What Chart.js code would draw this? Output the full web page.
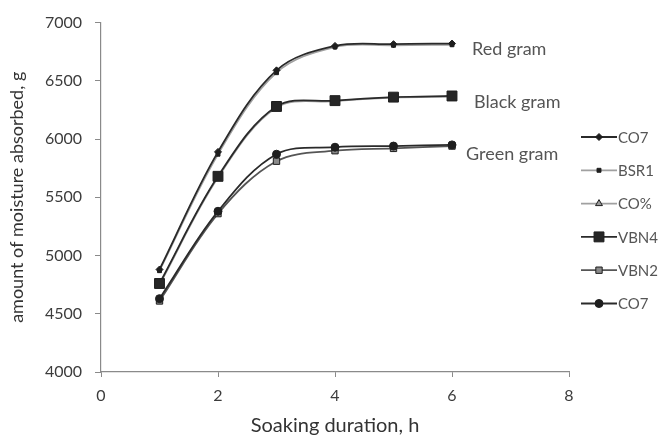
<!DOCTYPE html>
<html>
<head>
<meta charset="utf-8">
<script src="https://cdn.jsdelivr.net/npm/chart.js@4/dist/chart.umd.min.js"></script>
<style>
  html, body { margin: 0; padding: 0; background: #fff; }
  #wrap { width: 661px; height: 436px; position: relative; }
</style>
</head>
<body>
<div id="wrap"><canvas id="soakChart" width="661" height="436"></canvas></div>
<script>
const HOURS = [1, 2, 3, 4, 5, 6];

// red gram
const RED_CO7   = [4880, 5890, 6590, 6800, 6815, 6820];
const RED_BSR1  = [4870, 5870, 6570, 6790, 6805, 6810];
// black gram
const BLK_CO5   = [4750, 5670, 6270, 6325, 6355, 6365];
const BLK_VBN4  = [4760, 5680, 6280, 6330, 6360, 6370];
// green gram
const GRN_VBN2  = [4610, 5360, 5810, 5900, 5920, 5940];
const GRN_CO7   = [4630, 5380, 5870, 5930, 5940, 5950];

const SERIES_NAMES = ["CO7", "BSR1", "CO%", "VBN4", "VBN2", "CO7"];
const GROUP_LABELS = ["Red gram", "Black gram", "Green gram"];

const TEXT  = "#3c3c3c";
const AXIS  = "#8a8a8a";
const FONT  = "Lato, 'Open Sans', sans-serif";

const toXY = vals => vals.map((v, i) => ({ x: HOURS[i], y: v }));

function series(label, vals, line, style, radius, fill, order) {
  return {
    label, data: toXY(vals),
    borderColor: line, borderWidth: 1.8,
    pointStyle: style, pointRadius: radius, pointHoverRadius: radius,
    pointBackgroundColor: fill, pointBorderColor: "#1e1e1e", pointBorderWidth: 1,
    tension: 0.35, order,
  };
}

const datasets = [
  series(SERIES_NAMES[0], RED_CO7,  "#2a2a2a", "rectRot",  3.5, "#1e1e1e", 2),
  series(SERIES_NAMES[1], RED_BSR1, "#a0a0a0", "rect",     2.8, "#1e1e1e", 3),
  series(SERIES_NAMES[2], BLK_CO5,  "#a0a0a0", "triangle", 4,   "#9a9a9a", 4),
  series(SERIES_NAMES[3], BLK_VBN4, "#2a2a2a", "rect",     7,   "#262626", 1),
  series(SERIES_NAMES[4], GRN_VBN2, "#555555", "rect",     4.5, "#8a8a8a", 5),
  series(SERIES_NAMES[5], GRN_CO7,  "#2a2a2a", "circle",   4,   "#1e1e1e", 2),
];

// series legend on the right: short line with the marker, then the name
const sideLegend = {
  id: "sideLegend",
  afterDraw(chart) {
    const ctx = chart.ctx;
    ctx.save();
    chart.data.datasets.forEach((ds, i) => {
      const y = 137 + i * 33.3;
      ctx.strokeStyle = ds.borderColor;
      ctx.lineWidth = 1.8;
      ctx.beginPath();
      ctx.moveTo(581, y);
      ctx.lineTo(617, y);
      ctx.stroke();
      ctx.fillStyle = ds.pointBackgroundColor;
      ctx.strokeStyle = ds.pointBorderColor;
      ctx.lineWidth = 1;
      Chart.helpers.drawPoint(ctx, {
        pointStyle: ds.pointStyle, radius: ds.pointRadius, rotation: 0, borderWidth: 1,
      }, 599, y);
      ctx.fillStyle = "#555";
      ctx.font = `15px ${FONT}`;
      ctx.textAlign = "left";
      ctx.textBaseline = "middle";
      ctx.fillText(ds.label, 618, y + 1);
    });
    ctx.restore();
  },
};

// crop names beside the end of each pair of curves
const groupLabels = {
  id: "groupLabels",
  afterDraw(chart) {
    const { ctx, scales: { x, y } } = chart;
    const ends = [RED_CO7[5], BLK_VBN4[5], GRN_CO7[5]];
    const dx = [20, 22, 14];
    const dy = [6, 6, 9];
    ctx.save();
    ctx.fillStyle = "#555";
    ctx.font = `18px ${FONT}`;
    ctx.textAlign = "left";
    ctx.textBaseline = "middle";
    GROUP_LABELS.forEach((t, i) => {
      ctx.fillText(t, x.getPixelForValue(6) + dx[i], y.getPixelForValue(ends[i]) + dy[i]);
    });
    ctx.restore();
  },
};

new Chart(document.getElementById("soakChart"), {
  type: "line",
  data: { datasets },
  options: {
    responsive: false,
    animation: false,
    events: [],
    layout: { padding: { left: 0, top: 17, right: 92, bottom: 0 } },
    plugins: { legend: { display: false }, tooltip: { enabled: false } },
    scales: {
      x: {
        type: "linear", min: 0, max: 8,
        afterFit: s => { s.height = 64; },
        grid: { drawOnChartArea: false, drawTicks: true, tickLength: 5, color: AXIS },
        border: { color: AXIS, width: 1.2 },
        ticks: { stepSize: 2, color: TEXT, padding: 9, font: { family: FONT, size: 16 } },
        title: {
          display: true, text: "Soaking duration, h", color: "#333",
          font: { family: FONT, size: 20, lineHeight: 1 }, padding: { top: 0, bottom: 0 },
        },
      },
      y: {
        min: 4000, max: 7000,
        afterFit: s => { s.width = 101; },
        grid: { drawOnChartArea: false, drawTicks: true, tickLength: 6, color: AXIS },
        border: { color: AXIS, width: 1.2 },
        ticks: {
          stepSize: 500, color: TEXT, padding: 13, font: { family: FONT, size: 16 },
          callback: v => String(v),
        },
        title: {
          display: true, text: "amount of moisture absorbed, g", color: "#333",
          font: { family: FONT, size: 18, lineHeight: 1 }, padding: { top: 8, bottom: 0 },
        },
      },
    },
  },
  plugins: [sideLegend, groupLabels],
});
</script>
</body>
</html>
